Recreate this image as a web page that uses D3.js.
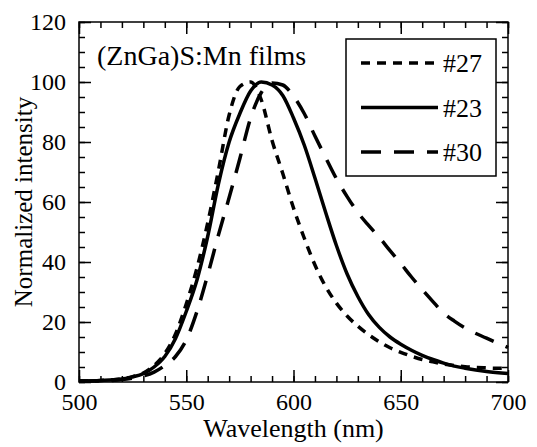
<!DOCTYPE html>
<html>
<head>
<meta charset="utf-8">
<script src="https://cdn.jsdelivr.net/npm/d3@7"></script>
<style>
  html,body{margin:0;padding:0;background:#fff;}
</style>
</head>
<body>
<div id="chart"></div>
<script>
// PL-Spektren (ZnGa)S:Mn, normiert.
const wavelength = [500,510,520,525,530,535,540,545,550,555,560,565,570,575,580,585,590,595,600,605,610,615,620,625,630,635,640,645,650,655,660,665,670,675,680,690,700];
const s27 = [0.3,0.5,1.1,1.8,3,5.5,9.5,16,26,38,53,70.5,89,98.5,100,94,80.5,69.5,58,48,39,31.8,26.3,22,18.6,15.8,13.4,11.4,9.9,8.6,7.5,6.7,6,5.5,5.1,4.7,4.5];
const s23 = [0.3,0.5,1.0,1.7,2.8,5,8.5,14.5,23.5,34,48.5,66,80,89.5,97,100,99,95.5,88,79,68,56.5,45.5,36,28.5,22.5,18.2,15,12.6,10.6,8.9,7.5,6.3,5.3,4.6,3.5,2.8];
const s30 = [0.3,0.4,0.8,1.3,2,3.3,5.5,8.5,14,23.5,35.7,49,61.5,74.5,88,96.5,99.7,99,95.3,89.5,82,74.8,67.8,61.8,56.5,52.2,48.2,43.8,39.5,35,30.8,26.8,23,20.3,18,14.6,11.5];
const seriesNames = ["#27","#23","#30"];
const xTicks = [500,550,600,650,700];
const yTicks = [0,20,40,60,80,100,120];

const W=537, H=447, m={l:79,r:29,t:22,b:65};
const x = d3.scaleLinear().domain([500,700]).range([m.l, W-m.r]);
const y = d3.scaleLinear().domain([0,120]).range([H-m.b, m.t]);
const serif = "Liberation Serif, Times New Roman, Times, Tinos, Nimbus Roman, DejaVu Serif, Noto Serif, serif";
const svg = d3.select("#chart").append("svg").attr("width",W).attr("height",H)
  .attr("font-family",serif);

const dashes = {"#27":"9,7","#23":null,"#30":"20,13"};
const series = [s27,s23,s30].map((v,i)=>({name:seriesNames[i], pts:wavelength.map((w,j)=>[w,v[j]])}));

// Achsen (Ticks nach innen, alle vier Seiten)
const minorX = d3.range(500,701,10), minorY = d3.range(0,121,5);
function ax(gen, tr, major, minor, labels){
  const mk = (vals,len,lab)=>{
    const a = gen.tickValues(vals).tickSize(-len).tickPadding(labels==="x"?11:13)
      .tickFormat(lab?d3.format("d"):"");
    const gg = svg.append("g").attr("transform",tr).call(a);
    gg.select(".domain").remove();
    gg.attr("font-family",serif).attr("font-size",24);
    gg.selectAll("line").attr("stroke","#000").attr("stroke-width",1.5);
    gg.selectAll("text").attr("fill","#000");
  };
  mk(minor,6,false); mk(major,12,!!labels);
}
ax(d3.axisBottom(x), `translate(0,${y(0)})`, xTicks, minorX, "x");
ax(d3.axisTop(x), `translate(0,${y(120)})`, xTicks, minorX, null);
ax(d3.axisLeft(y), `translate(${x(500)},0)`, yTicks, minorY, "y");
ax(d3.axisRight(y), `translate(${x(700)},0)`, yTicks, minorY, null);

svg.append("rect").attr("x",x(500)).attr("y",y(120)).attr("width",x(700)-x(500)).attr("height",y(0)-y(120))
  .attr("fill","none").attr("stroke","#000").attr("stroke-width",1.5);

// Kurven
const line = d3.line().x(d=>x(d[0])).y(d=>y(d[1])).curve(d3.curveMonotoneX);
series.forEach(s=>{
  svg.append("path").datum(s.pts).attr("d",line).attr("fill","none").attr("stroke","#000")
    .attr("stroke-width",3.5).attr("stroke-dasharray",dashes[s.name]);
});

// Titel im Plot
svg.append("text").attr("x",97).attr("y",65).attr("font-size",28).text("(ZnGa)S:Mn films");

// Legende
const lg = svg.append("g");
lg.append("rect").attr("x",346).attr("y",39).attr("width",150).attr("height",137).attr("fill","#fff").attr("stroke","#000").attr("stroke-width",1.5);
series.forEach((s,i)=>{
  const yy = 63+i*44.5;
  lg.append("line").attr("x1",361).attr("x2",438).attr("y1",yy).attr("y2",yy).attr("stroke","#000")
    .attr("stroke-width",3.5).attr("stroke-dasharray",dashes[s.name]);
  lg.append("text").attr("x",443).attr("y",yy+9).attr("font-size",26).text(s.name);
});

// Achsentitel
svg.append("text").attr("x",(x(500)+x(700))/2).attr("y",437).attr("text-anchor","middle")
  .attr("font-size",26).text("Wavelength (nm)");
svg.append("text").attr("transform",`translate(32,${(y(0)+y(120))/2}) rotate(-90)`).attr("text-anchor","middle")
  .attr("font-size",25).text("Normalized intensity");
</script>
</body>
</html>
